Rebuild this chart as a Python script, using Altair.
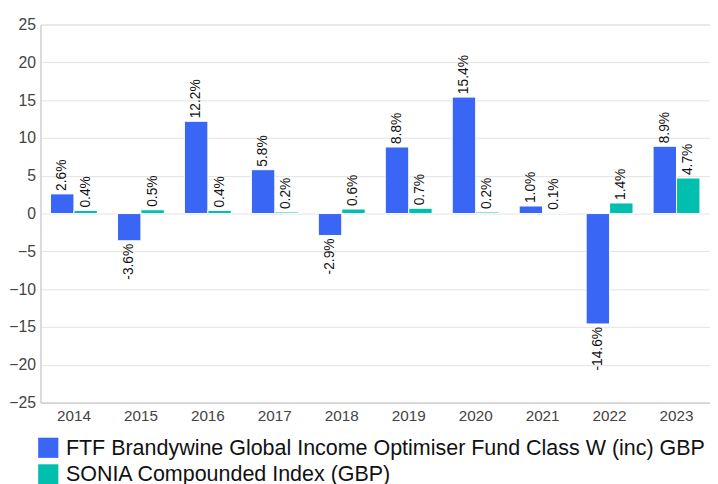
import altair as alt
import pandas as pd

years = ["2014", "2015", "2016", "2017", "2018", "2019", "2020", "2021", "2022", "2023"]
fund = [2.6, -3.6, 12.2, 5.8, -2.9, 8.8, 15.4, 1.0, -14.6, 8.9]
sonia = [0.4, 0.5, 0.4, 0.2, 0.6, 0.7, 0.2, 0.1, 1.4, 4.7]
series_names = [
    "FTF Brandywine Global Income Optimiser Fund Class W (inc) GBP",
    "SONIA Compounded Index (GBP)",
]
colors = ["#3a66f6", "#00bfae"]

rows = []
for i, y in enumerate(years):
    rows.append({"year": y, "series": series_names[0], "value": fund[i]})
    rows.append({"year": y, "series": series_names[1], "value": sonia[i]})
df = pd.DataFrame(rows)
df["label"] = df["value"].map(lambda v: f"{v:.1f}%")

FONT = "Liberation Sans"

x = alt.X("year:N", title=None, sort=years,
          scale=alt.Scale(paddingInner=0.3, paddingOuter=0.15),
          axis=alt.Axis(labelAngle=0, labelFontSize=15.5, labelColor="#444444",
                        labelFont=FONT, domainColor="#c8c8c8", ticks=False,
                        labelPadding=6, grid=False))
xo = alt.XOffset("series:N", sort=series_names)
y = alt.Y("value:Q", title=None,
          scale=alt.Scale(domain=[-25, 25], nice=False),
          axis=alt.Axis(values=list(range(-25, 30, 5)), labelFontSize=16,
                        labelColor="#444444", labelFont=FONT, gridColor="#e3e3e3",
                        domainColor="#c8c8c8", ticks=False, labelPadding=5))
color = alt.Color("series:N", sort=series_names,
                  scale=alt.Scale(domain=series_names, range=colors),
                  legend=alt.Legend(title=None, orient="none", legendX=-3, legendY=419,
                                    symbolType="square", symbolSize=420,
                                    symbolStrokeWidth=0, labelFontSize=21.8,
                                    labelFont=FONT, labelColor="#111111",
                                    rowPadding=4, labelLimit=900, symbolOffset=0,
                                    labelOffset=7))

base = alt.Chart(df)
bars = base.mark_bar(stroke="white", strokeWidth=1).encode(x=x, xOffset=xo, y=y, color=color)

pos = base.transform_filter("datum.value >= 0").mark_text(
    angle=270, align="left", baseline="middle", dx=3, fontSize=14, font=FONT, color="#111111"
).encode(x=x, xOffset=xo, y=y, text="label:N")
neg = base.transform_filter("datum.value < 0").mark_text(
    angle=270, align="right", baseline="middle", dx=-3, fontSize=14, font=FONT, color="#111111"
).encode(x=x, xOffset=xo, y=y, text="label:N")

chart = alt.layer(bars, pos, neg).properties(
    width=680, height=384,
    padding={"left": 0, "top": 5, "right": 0, "bottom": 0},
).configure_view(stroke=None).configure(background="white")

chart.save("out.html", embed_options={"renderer": "svg", "actions": False})
